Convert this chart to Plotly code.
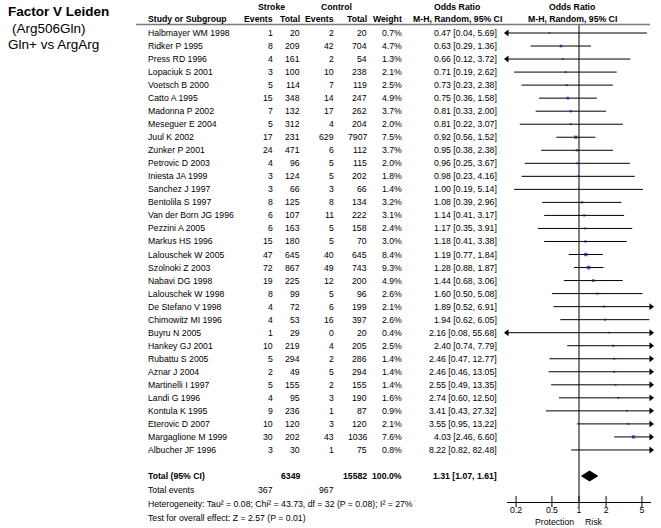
import plotly.graph_objects as go

# ---------------- data ----------------
studies = ["Halbmayer WM 1998", "Ridker P 1995", "Press RD 1996", "Lopaciuk S 2001", "Voetsch B 2000",
           "Catto A 1995", "Madonna P 2002", "Meseguer E 2004", "Juul K 2002", "Zunker P 2001",
           "Petrovic D 2003", "Iniesta JA 1999", "Sanchez J 1997", "Bentolila S 1997", "Van der Born JG 1996",
           "Pezzini A 2005", "Markus HS 1996", "Lalouschek W 2005", "Szolnoki Z 2003", "Nabavi DG 1998",
           "Lalouschek W 1998", "De Stefano V 1998", "Chimowitz MI 1996", "Buyru N 2005", "Hankey GJ 2001",
           "Rubattu S 2005", "Aznar J 2004", "Martinelli I 1997", "Landi G 1996", "Kontula K 1995",
           "Eterovic D 2007", "Margaglione M 1999", "Albucher JF 1996"]
stroke_events = [1, 8, 4, 3, 5, 15, 7, 5, 17, 24, 4, 3, 3, 8, 6, 6, 15, 47, 72, 19, 8, 4, 4, 1, 10, 5, 2, 5, 4, 9, 10, 30, 3]
stroke_total = [20, 209, 161, 100, 114, 348, 132, 312, 231, 471, 96, 124, 66, 125, 107, 163, 180, 645, 867, 225,
                99, 72, 53, 29, 219, 294, 49, 155, 95, 236, 120, 202, 30]
control_events = [2, 42, 2, 10, 7, 14, 17, 4, 629, 6, 5, 5, 3, 8, 11, 5, 5, 40, 49, 12, 5, 6, 16, 0, 4, 2, 5, 2, 3, 1, 3, 43, 1]
control_total = [20, 704, 54, 238, 119, 247, 262, 204, 7907, 112, 115, 202, 66, 134, 222, 158, 70, 645, 743, 200,
                 96, 199, 397, 20, 205, 286, 294, 155, 190, 87, 120, 1036, 75]
weights = [0.7, 4.7, 1.3, 2.1, 2.5, 4.9, 3.7, 2.0, 7.5, 3.7, 2.0, 1.8, 1.4, 3.2, 3.1, 2.4, 3.0, 8.4, 9.3, 4.9,
           2.6, 2.1, 2.6, 0.4, 2.5, 1.4, 1.4, 1.4, 1.6, 0.9, 2.1, 7.6, 0.8]
or_est = [0.47, 0.63, 0.66, 0.71, 0.73, 0.75, 0.81, 0.81, 0.92, 0.95, 0.96, 0.98, 1.00, 1.08, 1.14, 1.17, 1.18,
          1.19, 1.28, 1.44, 1.60, 1.89, 1.94, 2.16, 2.40, 2.46, 2.46, 2.55, 2.74, 3.41, 3.55, 4.03, 8.22]
ci_low = [0.04, 0.29, 0.12, 0.19, 0.23, 0.36, 0.33, 0.22, 0.56, 0.38, 0.25, 0.23, 0.19, 0.39, 0.41, 0.35, 0.41,
          0.77, 0.88, 0.68, 0.50, 0.52, 0.62, 0.08, 0.74, 0.47, 0.46, 0.49, 0.60, 0.43, 0.95, 2.46, 0.82]
ci_high = [5.69, 1.36, 3.72, 2.62, 2.38, 1.58, 2.00, 3.07, 1.52, 2.38, 3.67, 4.16, 5.14, 2.96, 3.17, 3.91, 3.38,
           1.84, 1.87, 3.06, 5.08, 6.91, 6.05, 55.68, 7.79, 12.77, 13.05, 13.35, 12.50, 27.32, 13.22, 6.60, 82.48]

total_stroke = 6349
total_control = 15582
total_weight = 100.0
total_or = 1.31
total_lo = 1.07
total_hi = 1.61
total_events_stroke = 367
total_events_control = 967
heterogeneity_text = "Heterogeneity: Tau² = 0.08; Chi² = 43.73, df = 32 (P = 0.08); I² = 27%"
overall_text = "Test for overall effect: Z = 2.57 (P = 0.01)"
tick_values = [0.2, 0.5, 1, 2, 5]
tick_labels = ["0.2", "0.5", "1", "2", "5"]

# ---------------- layout helpers ----------------
W, H = 661, 528
ROW0, ROWH = 33.0, 13.03
LOGMIN, LOGMAX = -0.8, 0.8
XMIN, XMAX = 10 ** LOGMIN, 10 ** LOGMAX
FONT = "Liberation Sans, Arial, sans-serif"
FS = 8.7


def r(py):
    return (py - ROW0) / ROWH


def px(xp):
    return xp / W


n = len(studies)
rows = list(range(n))
R_TOTAL = r(476)
R_AXIS = r(501.7)

fig = go.Figure()

# vertical line of no effect
fig.add_trace(go.Scatter(x=[1, 1], y=[r(25), R_AXIS], mode="lines",
                         line=dict(color="black", width=1), hoverinfo="skip", showlegend=False))

# CI lines
lx, ly = [], []
for i in rows:
    lx += [max(ci_low[i], XMIN), min(ci_high[i], XMAX), None]
    ly += [i, i, None]
fig.add_trace(go.Scatter(x=lx, y=ly, mode="lines", line=dict(color="black", width=1),
                         hoverinfo="skip", showlegend=False))

# arrowheads
ax_, ay_, asym = [], [], []
for i in rows:
    if ci_low[i] < XMIN:
        ax_.append(XMIN); ay_.append(i); asym.append("triangle-left")
    if ci_high[i] > XMAX:
        ax_.append(XMAX); ay_.append(i); asym.append("triangle-right")
fig.add_trace(go.Scatter(x=ax_, y=ay_, mode="markers", cliponaxis=False,
                         marker=dict(symbol=asym, size=6, color="black", line=dict(width=0)),
                         hoverinfo="skip", showlegend=False))

# point estimates (squares)
sx = [or_est[i] for i in rows if XMIN <= or_est[i] <= XMAX]
sy = [i for i in rows if XMIN <= or_est[i] <= XMAX]
ss = [1.6 + 0.22 * weights[i] for i in rows if XMIN <= or_est[i] <= XMAX]
fig.add_trace(go.Scatter(x=sx, y=sy, mode="markers",
                         marker=dict(symbol="square", size=ss, color="#16169a", line=dict(width=0)),
                         hoverinfo="skip", showlegend=False))

# total diamond
dh = 0.38
fig.add_trace(go.Scatter(x=[total_lo, total_or, total_hi, total_or, total_lo],
                         y=[R_TOTAL, R_TOTAL - dh, R_TOTAL, R_TOTAL + dh, R_TOTAL],
                         mode="lines", fill="toself", fillcolor="black",
                         line=dict(color="black", width=1), hoverinfo="skip", showlegend=False))

# axis tick crosses
fig.add_trace(go.Scatter(x=tick_values, y=[R_AXIS] * len(tick_values), mode="markers", cliponaxis=False,
                         marker=dict(symbol="line-ns", size=8, line=dict(color="black", width=1)),
                         hoverinfo="skip", showlegend=False))

ann = []


def txt(x, y, s, anchor="left", bold=False, size=FS):
    ann.append(dict(x=px(x), y=y, xref="paper", yref="y", text=("<b>%s</b>" % s) if bold else s,
                    showarrow=False, xanchor=anchor, yanchor="middle",
                    font=dict(family=FONT, size=size, color="black")))


# columns
C_NAME, C_SE, C_ST, C_CE, C_CT, C_W, C_CI = 146, 275, 302, 336, 369, 404, 499

# headers
txt(271, r(7), "Stroke", "center", True)
txt(336, r(7), "Control", "center", True)
txt(457, r(7), "Odds Ratio", "center", True)
txt(572, r(7), "Odds Ratio", "center", True)
txt(C_NAME, r(18.5), "Study or Subgroup", "left", True)
txt(C_SE, r(18.5), "Events", "right", True)
txt(C_ST, r(18.5), "Total", "right", True)
txt(C_CE, r(18.5), "Events", "right", True)
txt(C_CT, r(18.5), "Total", "right", True)
txt(C_W, r(18.5), "Weight", "right", True)
txt(457, r(18.5), "M-H, Random, 95% CI", "center", True)
txt(572, r(18.5), "M-H, Random, 95% CI", "center", True)

for i in rows:
    txt(C_NAME, i, studies[i])
    txt(C_SE, i, str(stroke_events[i]), "right")
    txt(C_ST, i, str(stroke_total[i]), "right")
    txt(C_CE, i, str(control_events[i]), "right")
    txt(C_CT, i, str(control_total[i]), "right")
    txt(C_W, i, "%.1f%%" % weights[i], "right")
    txt(C_CI, i, "%.2f [%.2f, %.2f]" % (or_est[i], ci_low[i], ci_high[i]), "right")

# totals
txt(C_NAME, R_TOTAL, "Total (95% CI)", "left", True)
txt(C_ST, R_TOTAL, str(total_stroke), "right", True)
txt(C_CT, R_TOTAL, str(total_control), "right", True)
txt(C_W, R_TOTAL, "%.1f%%" % total_weight, "right", True)
txt(C_CI, R_TOTAL, "%.2f [%.2f, %.2f]" % (total_or, total_lo, total_hi), "right", True)
txt(C_NAME, r(490), "Total events")
txt(C_SE, r(490), str(total_events_stroke), "right")
txt(C_CE, r(490), str(total_events_control), "right")
txt(C_NAME, r(504), heterogeneity_text)
txt(C_NAME, r(518), overall_text)

# axis captions
txt(575.5, r(521.5), "Protection", "right")
txt(583, r(521.5), "Risk", "left")

# title
txt(6, r(11), "Factor V Leiden", "left", True, 13.5)
txt(10, r(28), "(Arg506Gln)", "left", False, 13.5)
txt(6, r(44), "Gln+ vs ArgArg", "left", False, 13.5)

fig.update_layout(
    width=W, height=H, margin=dict(l=0, r=0, t=0, b=0),
    paper_bgcolor="white", plot_bgcolor="white",
    annotations=ann,
    shapes=[dict(type="line", xref="paper", yref="y", x0=px(136), x1=px(650), y0=r(24.5), y1=r(24.5),
                 line=dict(color="#7a7a7a", width=1.5))],
    xaxis=dict(type="log", range=[LOGMIN, LOGMAX], domain=[px(507), px(651)],
               anchor="free", position=(H - 501.7) / H,
               showline=True, linecolor="black", linewidth=1,
               showgrid=False, zeroline=False,
               tickvals=tick_values, ticktext=tick_labels,
               ticks="", ticklabelstandoff=0,
               tickfont=dict(family=FONT, size=FS, color="black")),
    yaxis=dict(range=[r(H), r(0)], domain=[0, 1], visible=False, showgrid=False, zeroline=False),
    showlegend=False,
)

fig.write_html("out.html", config={"displayModeBar": False, "staticPlot": True},
               post_script="document.body.style.margin='0';document.body.style.overflow='hidden';")
